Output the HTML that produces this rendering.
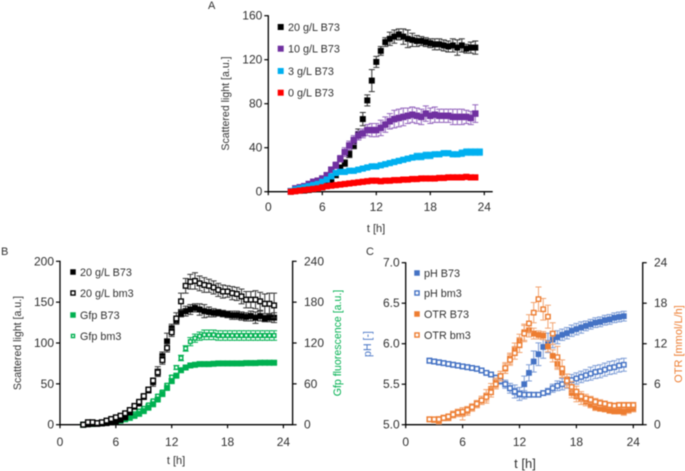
<!DOCTYPE html>
<html lang="en">
<head>
<meta charset="utf-8">
<title>Scattered light, Gfp fluorescence, pH and OTR charts</title>
<style>
html,body{margin:0;padding:0;background:#fff;width:685px;height:471px;overflow:hidden}
svg{display:block;filter:blur(0.5px)}
text{font-family:"Liberation Sans",sans-serif;fill:#303030}
</style>
</head>
<body>
<svg id="fig" width="685" height="471" viewBox="0 0 685 471" xmlns="http://www.w3.org/2000/svg">
<text x="208" y="9" font-size="11">A</text>
<text x="1" y="255" font-size="11">B</text>
<text x="366" y="255" font-size="11">C</text>
</svg>
<script>
const hours = [2.5,3,3.5,4,4.5,5,5.5,6,6.5,7,7.5,8,8.5,9,9.5,10,10.5,11,11.5,12,12.5,13,13.5,14,14.5,15,15.5,16,16.5,17,17.5,18,18.5,19,19.5,20,20.5,21,21.5,22,22.5,23,23.5,24];
const timeTicks = [0,6,12,18,24];

const a20B73 = [0,0.5,1,1,1.5,2,3,4,6,9,15,22,26,34,42,52,66,83,101,118,128,136,139,141,143,141,139,138,137,137,136,135,134,134,133,132,133,131,133,130,131,131];
const a20B73Err = [0,0,0,0,0,0,1,1,1,1,2,2,3,3,3,5,6,5,10,5,4,4,6,6,5,7,8,6,5,4,4,4,5,5,5,5,6,7,6,4,5,6];
const a10B73 = [0.5,3,4,5,7,9,10,12,15,20,24,30,36,42,47,51,53,56,56,56,58,61,64,66,67,68,69,70,69,68,71,69,70,69,69,69,68,68,68,68,67,71];
const a10B73Err = [0,0,1,1,1,1,1,2,2,2,3,3,4,4,4,4,4,5,6,6,7,7,7,8,8,8,7,7,7,7,7,7,7,6,6,6,7,7,7,6,6,8];
const a3B73 = [0.5,2,3,4,5,6,7,9,11,14,17,18,18,19,19,20,21,22,23,23,24,25,26,27,28,29,30,31,32,32,33,33,34,34,35,35,34,34,35,36,36,36,36];
const a3B73Err = [0,0,0,0,0,1,1,1,1,1,1,1,1,1,1,1,1,1,1,1,1,1,2,2,2,2,2,2,3,3,3,3,2,2,2,2,2,2,3,3,3,3,3];
const a0B73 = [0,0.5,1,1.5,2,2.5,3,4,5,5.5,6,6.5,7,7.5,8,8.5,9,9.5,10,10,9.5,10,10,10.5,10.5,11,11,11.5,11.5,12,12,12,12,12.5,12.5,13,13,13,13,13.5,13,13];
const a0B73Err = [0,0,0,0,0,0,0,0,0,0,0,0,1,1,1,1,1,1,1,1,1,1,1,1,1,1,1,1,1,1,1,1,1,1,1,1,1,1,1,1,1,1];

const b20B73 = [0,0.5,1,1,1.5,2,3,4,6,9,15,22,26,34,42,52,65,84,102,118,128,136,139,141,143,141,139,138,137,137,136,135,134,134,133,132,133,131,133,130,131,131];
const b20B73Err = [0,0,0,0,0,0,1,1,1,1,2,2,3,3,3,5,6,5,10,5,4,4,6,6,5,7,8,6,5,4,4,4,5,5,5,5,6,7,6,4,5,6];
const b20Bm3 = [0,3,3,2,3,5,7,9,11,14,18,23,28,35,43,54,64,79,94,113,130,151,170,175,176,173,171,170,168,165,163,163,161,160,157,153,153,153,151,148,148,146];
const b20Bm3Err = [0,1,1,1,1,1,1,1,1,2,2,2,2,2,3,3,4,5,5,5,7,10,9,9,10,9,9,8,8,8,8,7,8,8,9,10,10,11,11,12,13,15];
const bGfpB73 = [0,1,1,2,2,3,4,5,6,8,10,13,16,20,25,30,37,45,54,64,72,80,84,87,88,89,89,89,89.5,90,90,90,90,90,90,90.5,90.5,90.5,91,91,91,91];
const bGfpB73Err = [0,0,0,0,0,0,0,0,0,0,1,1,1,1,1,1,1,1,2,2,2,2,1,1,1,1,1,1,1,1,1,1,1,1,1,1,2,2,2,2,2,2];
const bGfpBm3 = [0,1,2,2,3,4,5,6,8,10,13,16,20,24,29,35,42,48,58,70,84,98,112,122,127,130,132,132,132,131,131,131,131,131,131,131,131,131,131,131,131,131];
const bGfpBm3Err = [0,0,0,0,0,0,0,0,0,1,1,1,1,1,1,1,2,2,2,2,3,4,4,6,6,6,7,7,7,7,7,7,7,7,7,7,7,7,7,7,7,7];

const cPhB73 = [5.79,5.78,5.77,5.76,5.75,5.74,5.73,5.72,5.71,5.7,5.69,5.67,5.64,5.62,5.58,5.54,5.5,5.45,5.41,5.38,5.5,5.64,5.78,5.87,5.96,6.01,6.05,6.08,6.11,6.13,6.16,6.18,6.2,6.22,6.24,6.26,6.27,6.29,6.3,6.32,6.33,6.34];
const cPhB73Err = [0.02,0.02,0.02,0.02,0.02,0.02,0.02,0.02,0.02,0.02,0.02,0.02,0.02,0.02,0.03,0.03,0.03,0.03,0.04,0.04,0.1,0.1,0.13,0.14,0.14,0.12,0.1,0.08,0.07,0.07,0.07,0.07,0.07,0.06,0.06,0.06,0.06,0.06,0.06,0.06,0.06,0.06];
const cPhBm3 = [5.79,5.78,5.77,5.76,5.75,5.74,5.73,5.72,5.71,5.7,5.69,5.67,5.64,5.62,5.58,5.54,5.5,5.45,5.41,5.38,5.37,5.37,5.37,5.37,5.39,5.41,5.45,5.48,5.5,5.52,5.55,5.57,5.59,5.61,5.63,5.65,5.66,5.68,5.7,5.71,5.73,5.74];
const cPhBm3Err = [0.03,0.03,0.03,0.02,0.02,0.02,0.02,0.02,0.02,0.02,0.02,0.02,0.02,0.03,0.03,0.04,0.05,0.06,0.08,0.08,0.05,0.03,0.02,0.02,0.03,0.04,0.05,0.06,0.07,0.07,0.07,0.07,0.07,0.07,0.08,0.08,0.08,0.08,0.08,0.08,0.08,0.08];
const cOtrB73 = [0.8,0.7,0.6,1,1,1.5,1.7,1.6,2,2.5,3,3.6,4.2,5.3,6.2,7.2,8.3,9.8,11.2,12.4,13.7,14,13.5,13.3,13.2,11.6,10.2,9,7.7,6.7,4.7,4.2,3.8,3.4,3,2.6,2.4,2.3,2.1,2,2,1.9,2.2,2.4];
const cOtrB73Err = [0.3,0.3,0.5,0.4,0.4,0.5,0.5,0.9,0.6,0.5,0.5,0.6,1,0.8,0.7,0.7,0.7,0.8,0.9,1,1.2,1,0.8,0.6,0.6,0.8,0.9,0.8,0.7,0.8,0.7,0.8,0.8,0.6,0.5,0.5,0.4,0.4,0.4,0.4,0.4,0.5,0.5,0.5];
const cOtrBm3 = [0.8,0.8,0.8,1,1.2,1.5,1.8,1.9,2.2,2.6,3.1,3.6,4.1,4.8,6,7.2,8.4,9.6,10.6,11.8,13.5,15,16.6,18.6,17.1,16,13.5,10,8.3,6.5,5.6,4.9,4.2,3.9,3.7,3.4,3.2,3.1,2.9,2.8,2.9,2.9,2.9,2.9];
const cOtrBm3Err = [0.3,0.3,0.4,0.4,0.4,0.5,0.5,0.6,0.5,0.5,0.5,0.6,0.6,0.7,0.7,0.7,0.8,0.8,0.9,1.1,1.2,1.3,1.5,1.8,1.6,1.7,1.6,1.6,1.3,1,0.8,0.8,0.7,0.6,0.5,0.5,0.5,0.4,0.4,0.4,0.4,0.4,0.4,0.4];

const scatterTicksA = [0,40,80,120,160];
const scatterTicksB = [0,50,100,150,200];
const gfpTicks = [0,60,120,180,240];
const phTicks = [5.0,5.5,6.0,6.5,7.0];
const otrTicks = [0,6,12,18,24];

const NS = 'http://www.w3.org/2000/svg';
const fig = document.getElementById('fig');

function scale(d0,d1,p0,p1){ return function(v){ return p0+(v-d0)*(p1-p0)/(d1-d0); }; }

function line(parent,x1,y1,x2,y2,color,width){
  const l = document.createElementNS(NS,'line');
  l.setAttribute('x1',x1); l.setAttribute('y1',y1); l.setAttribute('x2',x2); l.setAttribute('y2',y2);
  l.setAttribute('stroke',color); l.setAttribute('stroke-width',width);
  parent.appendChild(l);
  return l;
}
function label(parent,x,y,str,size,anchor,color,rotate){
  const t = document.createElementNS(NS,'text');
  t.setAttribute('x',x); t.setAttribute('y',y);
  t.setAttribute('font-size',size); t.setAttribute('text-anchor',anchor||'start');
  if(color) t.style.fill = color;
  if(rotate) t.setAttribute('transform','rotate(-90 '+x+' '+y+')');
  t.textContent = str;
  parent.appendChild(t);
  return t;
}
function marker(parent,cx,cy,size,color,hollow){
  const r = document.createElementNS(NS,'rect');
  const s = hollow ? size-1.4 : size;
  r.setAttribute('x',cx-s/2); r.setAttribute('y',cy-s/2); r.setAttribute('width',s); r.setAttribute('height',s);
  r.setAttribute('fill',hollow?'#fff':color);
  if(hollow){ r.setAttribute('stroke',color); r.setAttribute('stroke-width',1.4); }
  parent.appendChild(r);
  return r;
}
function drawSeries(panel,name,values,errors,x,y,color,errColor,size,hollow){
  const g = document.createElementNS(NS,'g');
  
  
  fig.appendChild(g);
  values.forEach(function(v,i){
    const px = x(hours[i]);
    const e = errors[i]||0;
    if(e>0){
      const bar = line(g,px,y(v-e),px,y(v+e),errColor,1);
      
      
      const capTop = line(g,px-3,y(v+e),px+3,y(v+e),errColor,1);
      
      
      const capBottom = line(g,px-3,y(v-e),px+3,y(v-e),errColor,1);
      
      
    }
  });
  values.forEach(function(v,i){
    const m = marker(g,x(hours[i]),y(v),size,color,hollow);
    
    
  });
}
function drawAxes(panel,x,y,x0,xEnd,y0,yTop,yTicks,yFmt,xTickSize,xTickY){
  const ax = line(fig,x0,y0,xEnd,y0,'#000',1.3);
  
  
  const ay = line(fig,x0,y0+0.5,x0,yTop-0.5,'#000',1.3);
  
  
  timeTicks.forEach(function(t){
    const tick = line(fig,x(t),y0,x(t),y0+3.5,'#000',1.2);
    
    
    const lab = label(fig,x(t),xTickY,String(t),xTickSize,'middle');
    
    
  });
  yTicks.forEach(function(v){
    const tick = line(fig,x0-4,y(v),x0,y(v),'#000',1.2);
    
    
    const lab = label(fig,x0-6,y(v)+4,yFmt(v),xTickSize,'end');
    
    
  });
}
function drawRightAxis(panel,xPos,y,ticks,y0,yTop,textX){
  const ar = line(fig,xPos,y0+0.5,xPos,yTop-0.5,'#000',1.3);
  
  
  ticks.forEach(function(v){
    const tick = line(fig,xPos,y(v),xPos+4,y(v),'#000',1.2);
    
    
    const lab = label(fig,textX,y(v)+4,String(v),12,'start');
    
    
  });
}
function legendEntry(panel,mx,my,tx,str,color,hollow,size){
  const m = marker(fig,mx,my,size,color,hollow);
  
  
  const t = label(fig,tx,my+4,str,10.8,'start');
  
  
}

/* Panel A */
const xA = scale(0,24,268.3,484.3);
const yA = scale(0,160,191.7,15.7);
drawAxes('panel-a',xA,yA,268.3,492.7,191.7,15.7,scatterTicksA,String,12,211);
drawSeries('panel-a','20-g-l-b73',a20B73,a20B73Err,xA,yA,'#000','#333',6,false);
drawSeries('panel-a','10-g-l-b73',a10B73,a10B73Err,xA,yA,'#7030a0','#9465bd',6.5,false);
drawSeries('panel-a','3-g-l-b73',a3B73,a3B73Err,xA,yA,'#00b0f0','#40c4f4',6.2,false);
drawSeries('panel-a','0-g-l-b73',a0B73,a0B73Err,xA,yA,'#ff0000','#ff5050',6.2,false);
legendEntry('panel-a',280.7,27,288,'20 g/L B73','#000',false,6);
legendEntry('panel-a',280.7,48.7,288,'10 g/L B73','#7030a0',false,6);
legendEntry('panel-a',280.7,71,288,'3 g/L B73','#00b0f0',false,6);
legendEntry('panel-a',280.7,92.7,288,'0 g/L B73','#ff0000',false,6);
const titleAY = label(fig,229,103.5,'Scattered light [a.u.]',10.6,'middle',null,true);


const titleAX = label(fig,376,232,'t [h]',11,'middle');



/* Panel B */
const xB = scale(0,24,60,283.4);
const yB = scale(0,200,424.7,261.3);
const yB2 = scale(0,240,424.7,261.3);
drawAxes('panel-b',xB,yB,60,292.6,424.7,261.3,scatterTicksB,String,12,446);
drawRightAxis('panel-b',292.6,yB2,gfpTicks,424.7,261.3,304);
drawSeries('panel-b','gfp-bm3',bGfpBm3,bGfpBm3Err,xB,yB2,'#00b050','#00b050',5,true);
drawSeries('panel-b','gfp-b73',bGfpB73,bGfpB73Err,xB,yB2,'#00b050','#40c47c',6,false);
drawSeries('panel-b','20-g-l-b73',b20B73,b20B73Err,xB,yB,'#000','#333',6,false);
drawSeries('panel-b','20-g-l-bm3',b20Bm3,b20Bm3Err,xB,yB,'#000','#333',6,true);
legendEntry('panel-b',73,272,80,'20 g/L B73','#000',false,5.5);
legendEntry('panel-b',73,293,80,'20 g/L bm3','#000',true,5.5);
legendEntry('panel-b',73,315,80,'Gfp B73','#00b050',false,5.5);
legendEntry('panel-b',73,336,80,'Gfp bm3','#00b050',true,4.5);
const titleBY = label(fig,21,343,'Scattered light [a.u.]',10.6,'middle',null,true);


const titleBR = label(fig,341,343,'Gfp fluorescence [a.u.]',10.6,'middle','#00b050',true);


const titleBX = label(fig,176,464,'t [h]',11,'middle');



/* Panel C */
const xC = scale(0,24,405.7,633.3);
const yC = scale(5,7,424.7,262.7);
const yC2 = scale(0,24,424.7,262.7);
drawAxes('panel-c',xC,yC,405.7,642.7,424.7,262.7,phTicks,function(v){return v.toFixed(1);},12,446);
drawRightAxis('panel-c',642.7,yC2,otrTicks,424.7,262.7,654);
drawSeries('panel-c','ph-b73',cPhB73,cPhB73Err,xC,yC,'#4472c4','#7c9cd6',5.8,false);
drawSeries('panel-c','ph-bm3',cPhBm3,cPhBm3Err,xC,yC,'#4472c4','#7c9cd6',5.8,true);
drawSeries('panel-c','otr-b73',cOtrB73,cOtrB73Err,xC,yC2,'#ed7d31','#f2a36f',5.8,false);
drawSeries('panel-c','otr-bm3',cOtrBm3,cOtrBm3Err,xC,yC2,'#ed7d31','#f2a36f',5.8,true);
legendEntry('panel-c',417,273,424,'pH B73','#4472c4',false,5.5);
legendEntry('panel-c',417,293,424,'pH bm3','#4472c4',true,5.5);
legendEntry('panel-c',417,314,424,'OTR B73','#ed7d31',false,5.5);
legendEntry('panel-c',417,335,424,'OTR bm3','#ed7d31',true,5.5);
const titleCY = label(fig,371,344,'pH [-]',10.6,'middle','#4472c4',true);


const titleCR = label(fig,682,344,'OTR [mmol/L/h]',11,'middle','#ed7d31',true);


const titleCX = label(fig,525,468,'t [h]',13,'middle');


</script>
</body>
</html>
